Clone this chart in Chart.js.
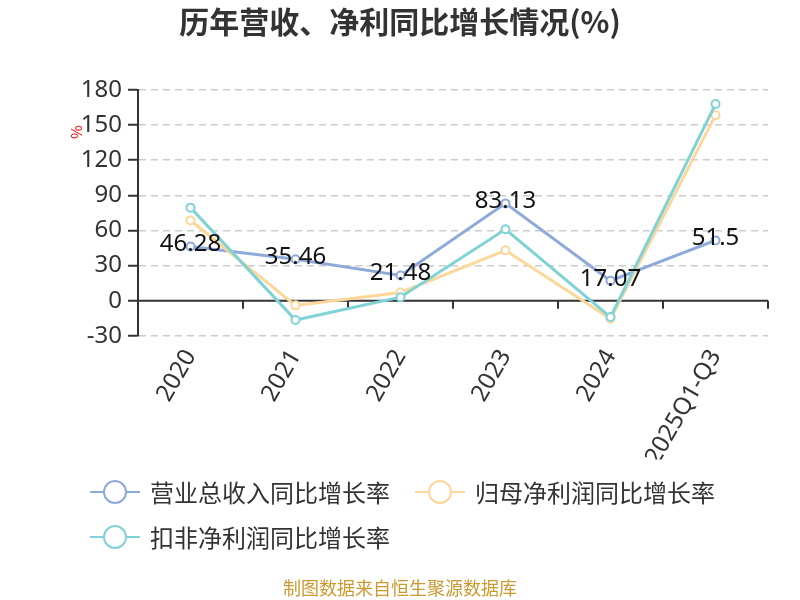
<!DOCTYPE html>
<html>
<head>
<meta charset="utf-8">
<script src="https://cdn.jsdelivr.net/npm/chart.js@4.4.1/dist/chart.umd.min.js"></script>
<style>
html,body{margin:0;padding:0;background:#fff;}
#wrap{width:800px;height:600px;}
</style>
</head>
<body>
<div id="wrap"><canvas id="c" width="800" height="600"></canvas></div>
<script>
const categories = ['2020', '2021', '2022', '2023', '2024', '2025Q1-Q3'];
const revenueGrowth = [46.28, 35.46, 21.48, 83.13, 17.07, 51.5];
const netProfitGrowth = [68.5, -4.0, 7.0, 43.0, -15.5, 158.5];
const deductedProfitGrowth = [79.5, -16.5, 3.0, 61.0, -14.0, 168.0];
const seriesNames = ['营业总收入同比增长率', '归母净利润同比增长率', '扣非净利润同比增长率'];
const yTicks = [-30, 0, 30, 60, 90, 120, 150, 180];

const COLORS = ['#8eaadb', '#fdd79a', '#7fd3d7'];
const FONT = '"Noto Sans CJK SC", "Noto Sans", sans-serif';
const NUMFONT = '"Noto Sans", "Noto Sans CJK SC", sans-serif';

Chart.defaults.font.family = FONT;
Chart.defaults.color = '#333';

const zeroAxisPlugin = {
  id: 'zeroAxis',
  beforeDatasetsDraw(chart) {
    const {ctx, chartArea, scales} = chart;
    const x = scales.x, y = scales.y;
    const y0 = y.getPixelForValue(0);
    ctx.save();
    ctx.strokeStyle = '#333';
    ctx.lineWidth = 2;
    ctx.beginPath();
    ctx.moveTo(chartArea.left, y0);
    ctx.lineTo(chartArea.right, y0);
    const n = categories.length;
    const half = (x.getPixelForValue(1) - x.getPixelForValue(0)) / 2;
    for (let i = 0; i <= n; i++) {
      const px = i < n ? x.getPixelForValue(i) - half : x.getPixelForValue(n - 1) + half;
      ctx.moveTo(px, y0);
      ctx.lineTo(px, y0 + 8);
    }
    ctx.stroke();
    ctx.restore();
  }
};

const labelsPlugin = {
  id: 'valueLabels',
  afterDatasetsDraw(chart) {
    const {ctx} = chart;
    const meta = chart.getDatasetMeta(0);
    ctx.save();
    ctx.font = '24px ' + NUMFONT;
    ctx.fillStyle = '#111';
    ctx.textAlign = 'center';
    ctx.textBaseline = 'middle';
    meta.data.forEach((pt, i) => {
      ctx.fillText(String(revenueGrowth[i]), pt.x, pt.y - 2);
    });
    ctx.restore();
  }
};

const extrasPlugin = {
  id: 'extras',
  afterDraw(chart) {
    const {ctx} = chart;
    ctx.save();
    ctx.translate(76, 132);
    ctx.rotate(-Math.PI / 2);
    ctx.font = '15px ' + FONT;
    ctx.fillStyle = '#ff0000';
    ctx.textAlign = 'center';
    ctx.textBaseline = 'middle';
    ctx.fillText('%', 0, 0);
    ctx.restore();

    const items = [
      {x: 90, y: 492},
      {x: 415, y: 492},
      {x: 90, y: 537}
    ];
    ctx.save();
    ctx.font = '24px ' + FONT;
    ctx.textBaseline = 'middle';
    ctx.textAlign = 'left';
    items.forEach((it, i) => {
      ctx.strokeStyle = COLORS[i];
      ctx.lineWidth = 2;
      ctx.beginPath();
      ctx.moveTo(it.x, it.y);
      ctx.lineTo(it.x + 50, it.y);
      ctx.stroke();
      ctx.beginPath();
      ctx.arc(it.x + 25, it.y, 11, 0, Math.PI * 2);
      ctx.fillStyle = '#fff';
      ctx.fill();
      ctx.stroke();
      ctx.fillStyle = '#333';
      ctx.fillText(seriesNames[i], it.x + 60, it.y + 1);
    });
    ctx.restore();
  }
};

function ds(label, data, color, order) {
  return {
    label, data,
    borderColor: color,
    backgroundColor: '#fff',
    borderWidth: 3,
    pointRadius: 4,
    pointBorderWidth: 2,
    pointBackgroundColor: '#fff',
    pointBorderColor: color,
    tension: 0,
    order
  };
}

new Chart(document.getElementById('c'), {
  type: 'line',
  data: {
    labels: categories,
    datasets: [
      ds(seriesNames[0], revenueGrowth, COLORS[0], 2),
      ds(seriesNames[1], netProfitGrowth, COLORS[1], 1),
      ds(seriesNames[2], deductedProfitGrowth, COLORS[2], 0)
    ]
  },
  options: {
    responsive: false,
    animation: false,
    devicePixelRatio: 1,
    layout: {padding: {left: 32, right: 32, top: 0, bottom: 0}},
    plugins: {
      legend: {display: false},
      tooltip: {enabled: false},
      title: {
        display: true,
        text: '历年营收、净利同比增长情况(%)',
        color: '#333',
        font: {size: 30, weight: 'bold', family: FONT},
        padding: {top: 4, bottom: 50}
      },
      subtitle: {
        display: true,
        position: 'bottom',
        text: '制图数据来自恒生聚源数据库',
        color: '#cc9a30',
        font: {size: 18, family: FONT},
        padding: {top: 118, bottom: 1}
      }
    },
    scales: {
      x: {
        offset: true,
        grid: {display: false, drawTicks: false},
        border: {display: false},
        ticks: {
          font: {size: 24, family: NUMFONT},
          color: '#333',
          minRotation: 60,
          maxRotation: 60,
          padding: 9,
          autoSkip: false
        },
        afterFit(scale) { scale.height = 123.6; }
      },
      y: {
        min: -30,
        max: 180,
        afterBuildTicks(scale) { scale.ticks = yTicks.map(v => ({value: v})); },
        ticks: {font: {size: 24, family: NUMFONT}, color: '#333', padding: 6},
        grid: {
          color: (c) => (c.tick && c.tick.value === 0) ? 'rgba(0,0,0,0)' : '#cccccc',
          lineWidth: 1.5,
          tickColor: '#333',
          tickLength: 10,
          tickWidth: 2
        },
        border: {display: true, color: '#333', width: 2, dash: [7, 5]},
        afterFit(scale) { scale.width = 106; }
      }
    }
  },
  plugins: [zeroAxisPlugin, labelsPlugin, extrasPlugin]
});
</script>
</body>
</html>
